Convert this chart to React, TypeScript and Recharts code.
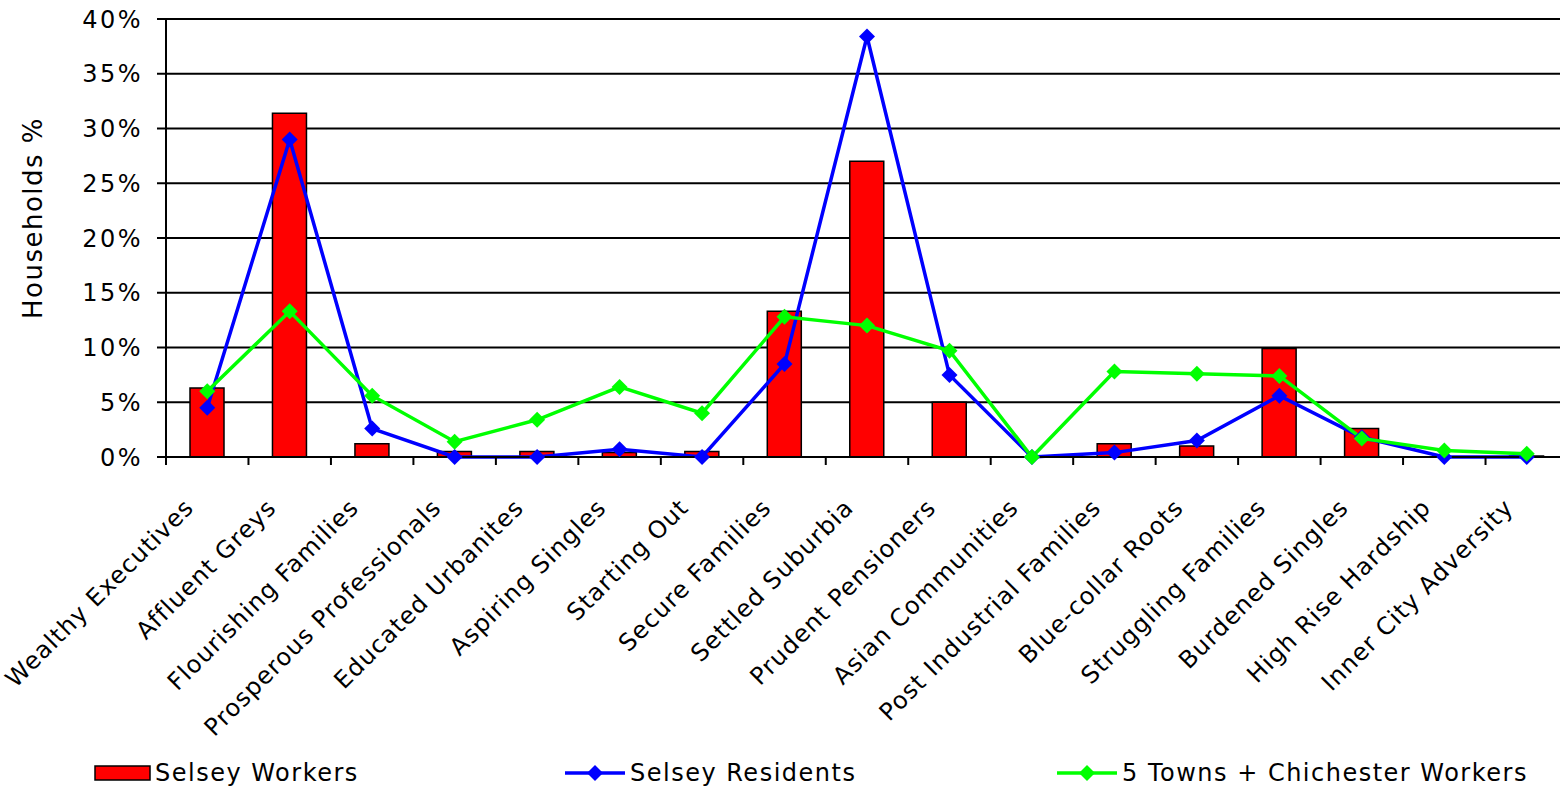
import { ComposedChart, Bar, Line, XAxis, YAxis, CartesianGrid, Label } from 'recharts';

const categories = [
  'Wealthy Executives',
  'Affluent Greys',
  'Flourishing Families',
  'Prosperous Professionals',
  'Educated Urbanites',
  'Aspiring Singles',
  'Starting Out',
  'Secure Families',
  'Settled Suburbia',
  'Prudent Pensioners',
  'Asian Communities',
  'Post Industrial Families',
  'Blue-collar Roots',
  'Struggling Families',
  'Burdened Singles',
  'High Rise Hardship',
  'Inner City Adversity',
];

const selseyWorkers = [6.3, 31.4, 1.2, 0.5, 0.5, 0.4, 0.5, 13.3, 27.0, 5.0, 0, 1.2, 1.0, 9.9, 2.6, 0, 0.1];
const selseyResidents = [4.5, 29.0, 2.6, 0, 0, 0.7, 0, 8.5, 38.4, 7.5, 0, 0.4, 1.5, 5.6, 1.8, 0, 0];
const townsWorkers = [6.0, 13.3, 5.6, 1.4, 3.4, 6.4, 4.0, 12.8, 12.0, 9.7, 0, 7.8, 7.6, 7.4, 1.7, 0.6, 0.3];

const yTicks = [0, 5, 10, 15, 20, 25, 30, 35, 40];

const data = categories.map((name, i) => ({
  name,
  workers: selseyWorkers[i],
  residents: selseyResidents[i],
  towns: townsWorkers[i],
}));

const FONT = '"DejaVu Sans", Verdana, sans-serif';
const RED = '#FF0000';
const BLUE = '#0000FF';
const GREEN = '#00FF00';

function Diamond({ cx, cy, fill }: { cx?: number; cy?: number; fill: string }) {
  if (cx == null || cy == null) return null;
  const r = 8;
  return (
    <polygon
      points={`${cx},${cy - r} ${cx + r},${cy} ${cx},${cy + r} ${cx - r},${cy}`}
      fill={fill}
    />
  );
}

// category labels at -45deg, with tick marks on the band edges
function CategoryTick(props: any) {
  const { x, y, payload, index, visibleTicksCount } = props;
  const half = payload?.offset ?? 41.2;
  const axisY = y - 8;
  const last = index === visibleTicksCount - 1;
  return (
    <g>
      <line x1={x - half} y1={axisY} x2={x - half} y2={axisY + 8} stroke="#000" strokeWidth={2} />
      {last && (
        <line x1={x + half} y1={axisY} x2={x + half} y2={axisY + 8} stroke="#000" strokeWidth={2} />
      )}
      <text
        x={x - 12}
        y={axisY + 52}
        textAnchor="end"
        transform={`rotate(-45, ${x - 12}, ${axisY + 52})`}
        fontFamily={FONT}
        fontSize={24}
        letterSpacing={1.1}
        fill="#000"
      >
        {payload.value}
      </text>
    </g>
  );
}

// rotated axis title, set a little above the plot's middle
function AxisTitle({ viewBox }: any) {
  const cx = viewBox.x + 33;
  const cy = viewBox.y + viewBox.height / 2 - 20;
  return (
    <text
      x={cx}
      y={cy}
      textAnchor="middle"
      dominantBaseline="central"
      transform={`rotate(-90, ${cx}, ${cy})`}
      fontFamily={FONT}
      fontSize={26}
      letterSpacing={1.5}
      fill="#000"
    >
      Households %
    </text>
  );
}

function LegendSwatch({ kind }: { kind: 'bar' | 'blue' | 'green' }) {
  if (kind === 'bar') {
    return (
      <svg width={58} height={18} style={{ display: 'block' }}>
        <rect x={1} y={2} width={55} height={14} fill={RED} stroke="#000" strokeWidth={1.5} />
      </svg>
    );
  }
  const c = kind === 'blue' ? BLUE : GREEN;
  return (
    <svg width={62} height={20} style={{ display: 'block' }}>
      <line x1={0} y1={10} x2={60} y2={10} stroke={c} strokeWidth={3.5} />
      <Diamond cx={30} cy={10} fill={c} />
    </svg>
  );
}

const legendItems: { label: string; kind: 'bar' | 'blue' | 'green'; left: number }[] = [
  { label: 'Selsey Workers', kind: 'bar', left: 94 },
  { label: 'Selsey Residents', kind: 'blue', left: 565 },
  { label: '5 Towns + Chichester Workers', kind: 'green', left: 1057 },
];

export default function App() {
  return (
    <div
      style={{
        position: 'absolute',
        left: 0,
        top: 0,
        width: 1560,
        height: 790,
        overflow: 'hidden',
        background: '#fff',
      }}
    >
      <ComposedChart
        width={1568}
        height={790}
        data={data}
        margin={{ top: 19, right: 0, left: 0, bottom: 0 }}
      >
        <CartesianGrid vertical={false} stroke="#000" strokeWidth={2} />
        <XAxis
          dataKey="name"
          interval={0}
          height={333}
          axisLine={{ stroke: '#000', strokeWidth: 2 }}
          tickLine={false}
          tickSize={8}
          tickMargin={0}
          tick={<CategoryTick />}
        />
        <YAxis
          width={166}
          domain={[0, 40]}
          ticks={yTicks}
          interval={0}
          tickFormatter={(v: number) => `${v}%`}
          axisLine={{ stroke: '#000', strokeWidth: 2 }}
          tickLine={{ stroke: '#000', strokeWidth: 2 }}
          tickSize={9}
          tickMargin={14}
          tick={{ fontFamily: FONT, fontSize: 24, letterSpacing: 2.5, fill: '#000' }}
        >
          <Label content={<AxisTitle />} />
        </YAxis>
        <Bar
          dataKey="workers"
          name="Selsey Workers"
          fill={RED}
          stroke="#000"
          strokeWidth={1.5}
          barSize={34}
          isAnimationActive={false}
        />
        <Line
          dataKey="residents"
          name="Selsey Residents"
          stroke={BLUE}
          strokeWidth={3.5}
          dot={(p: any) => <Diamond key={`r-${p.index}`} cx={p.cx} cy={p.cy} fill={BLUE} />}
          activeDot={false}
          isAnimationActive={false}
        />
        <Line
          dataKey="towns"
          name="5 Towns + Chichester Workers"
          stroke={GREEN}
          strokeWidth={3.5}
          dot={(p: any) => <Diamond key={`t-${p.index}`} cx={p.cx} cy={p.cy} fill={GREEN} />}
          activeDot={false}
          isAnimationActive={false}
        />
      </ComposedChart>
      {legendItems.map((item) => (
        <div
          key={item.label}
          style={{
            position: 'absolute',
            left: item.left,
            top: 759,
            display: 'flex',
            alignItems: 'center',
            gap: 3,
            fontFamily: FONT,
            fontSize: 24,
            letterSpacing: 1.5,
            color: '#000',
            whiteSpace: 'nowrap',
          }}
        >
          <LegendSwatch kind={item.kind} />
          <span>{item.label}</span>
        </div>
      ))}
    </div>
  );
}
